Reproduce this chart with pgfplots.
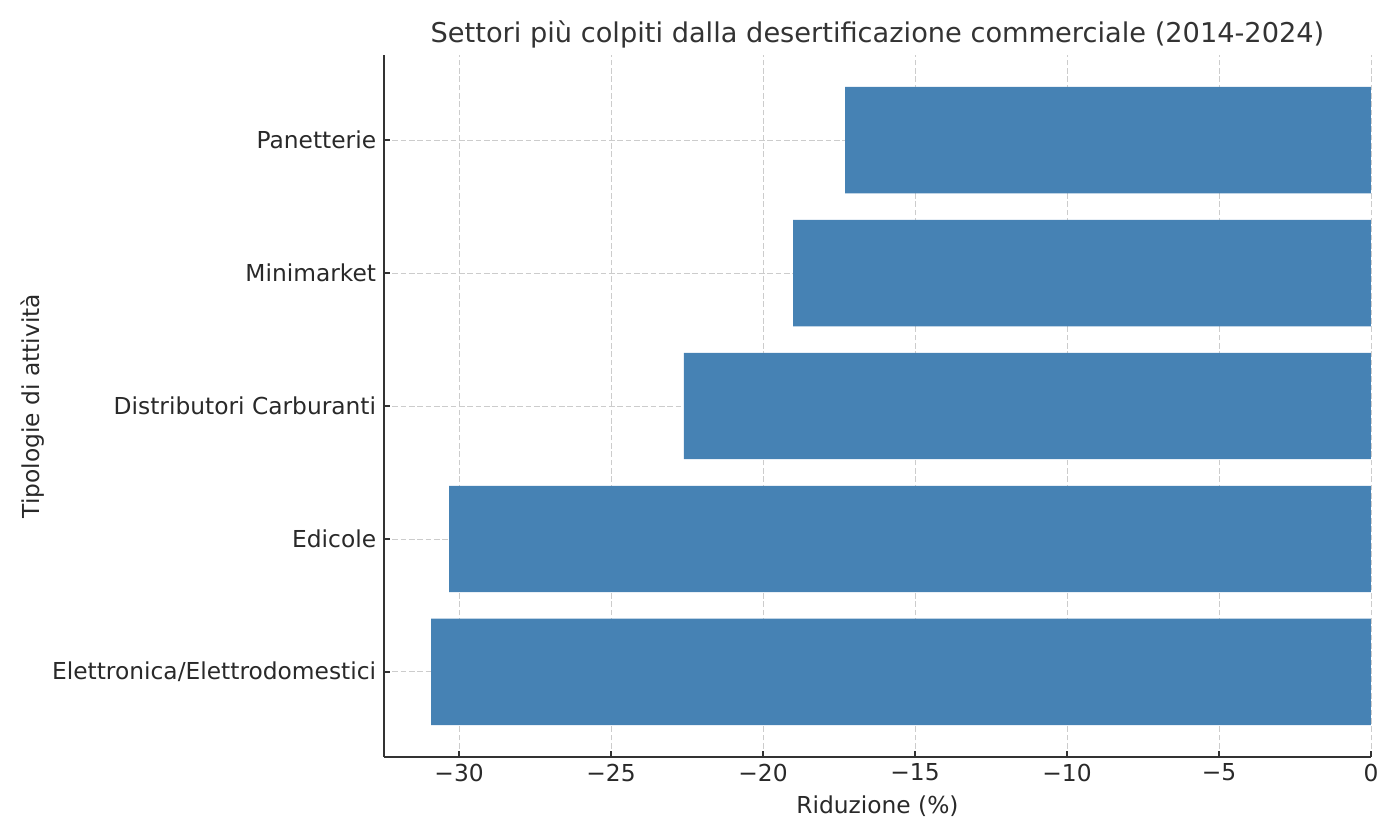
\documentclass[border=0pt]{standalone}
\usepackage{fontspec}
\setmainfont{DejaVu Sans}
\usepackage{pgfplots}
\pgfplotsset{compat=1.18}
\definecolor{barblue}{HTML}{4682B4}
\definecolor{txt}{HTML}{333333}
\definecolor{gridc}{HTML}{CCCCCC}

\begin{document}
\begin{tikzpicture}
\path[use as bounding box] (-138.24pt,-29.88pt) rectangle (365.76pt,272.52pt);
\begin{axis}[
    at={(0,0)}, anchor=south west,
    scale only axis,
    width=355.3pt, height=252.7pt,
    xbar, bar width=0.8, bar shift=0pt,
    xmin=-32.47, xmax=0,
    ymin=-0.64, ymax=4.64,
    xtick={-30,-25,-20,-15,-10,-5,0},
    xticklabels={−30,−25,−20,−15,−10,−5,0},
    ytick={0,1,2,3,4},
    yticklabels={Elettronica/Elettrodomestici,Edicole,Distributori Carburanti,Minimarket,Panetterie},
    axis x line*=bottom, axis y line*=left,
    axis line style={draw=txt, line width=0.6pt},
    tick align=inside, major tick length=2.2pt,
    tick style={draw=txt, line width=0.6pt},
    grid=major,
    grid style={dash pattern=on 2pt off 1pt, draw=gridc, line width=0.3pt},
    ticklabel style={font=\fontsize{8.4}{10}\selectfont, text=txt!80!black},
    yticklabel style={xshift=0.7pt},
    xticklabel style={yshift=1.1pt},
    label style={font=\fontsize{8.4}{10}\selectfont, text=txt!80!black},
    xlabel={Riduzione (\%)},
    ylabel={Tipologie di attività},
    xlabel style={at={(axis description cs:0.5,0)}, anchor=center, yshift=-17.6pt},
    ylabel style={at={(axis description cs:0,0.5)}, anchor=center, yshift=126.4pt},
    title={Settori più colpiti dalla desertificazione commerciale (2014-2024)},
    title style={at={(axis description cs:0.5,1)}, anchor=center, yshift=1.5pt,
                 font=\fontsize{9.8}{12}\selectfont, text=txt},
]
\addplot[fill=barblue, draw=none] coordinates {
    (-30.92,0)
    (-30.33,1)
    (-22.60,2)
    (-19.01,3)
    (-17.30,4)
};
\end{axis}
\end{tikzpicture}
\end{document}
